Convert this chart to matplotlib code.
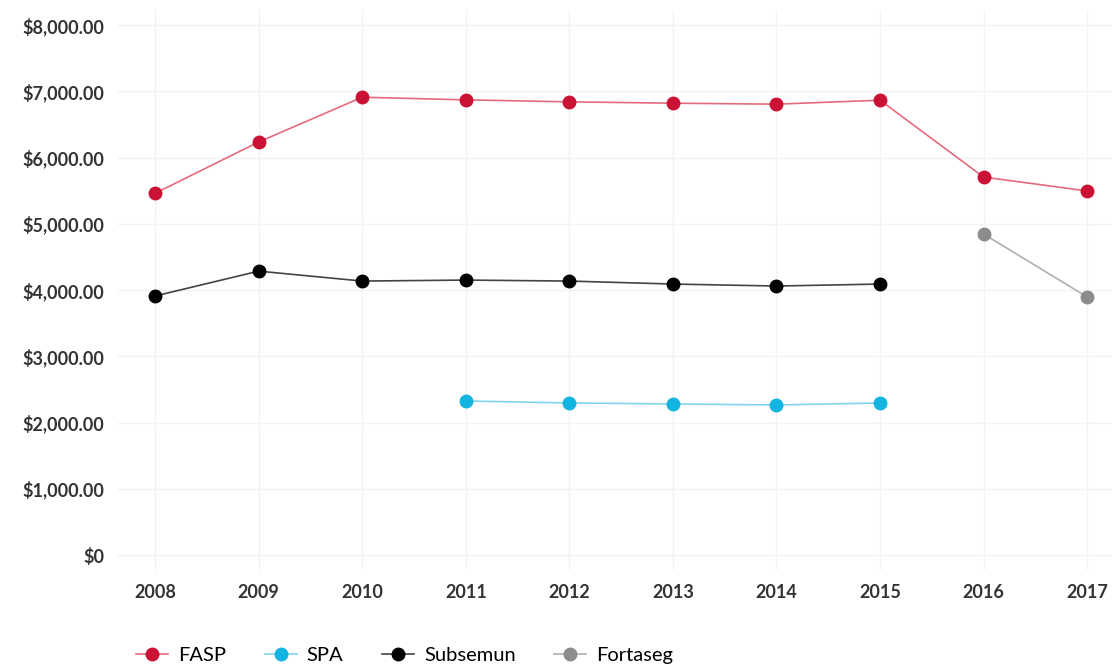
import matplotlib.pyplot as plt
from matplotlib.ticker import FuncFormatter

years = [2008, 2009, 2010, 2011, 2012, 2013, 2014, 2015, 2016, 2017]
fasp = [5460, 6235, 6910, 6870, 6840, 6820, 6805, 6865, 5705, 5495]
spa_years = [2011, 2012, 2013, 2014, 2015]
spa = [2325, 2295, 2280, 2265, 2295]
subsemun_years = [2008, 2009, 2010, 2011, 2012, 2013, 2014, 2015]
subsemun = [3910, 4285, 4135, 4150, 4135, 4090, 4060, 4090]
fortaseg_years = [2016, 2017]
fortaseg = [4845, 3895]

plt.rcParams['font.family'] = ['Lato', 'DejaVu Sans']

fig = plt.figure(figsize=(11.12, 6.69), dpi=100)
ax = fig.add_axes([0.106, 0.148, 0.894, 0.837])

ax.plot(years, fasp, color='#e36b7c', lw=1.2, marker='o', ms=9,
        mfc='#cc1234', mec='#cc1234', label='FASP')
ax.plot(spa_years, spa, color='#7fd4ec', lw=1.2, marker='o', ms=9,
        mfc='#14b4e0', mec='#14b4e0', label='SPA')
ax.plot(subsemun_years, subsemun, color='#444444', lw=1.2, marker='o', ms=9,
        mfc='#000000', mec='#000000', label='Subsemun')
ax.plot(fortaseg_years, fortaseg, color='#b0b0b0', lw=1.2, marker='o', ms=9,
        mfc='#8c8c8c', mec='#8c8c8c', label='Fortaseg')

ax.set_xlim(2007.64, 2017.24)
ax.set_ylim(-226, 8226)
ax.set_xticks(years)
ax.set_yticks(range(0, 8001, 1000))
ax.yaxis.set_major_formatter(FuncFormatter(lambda v, p: '$0' if v == 0 else '${:,.2f}'.format(v)))

for lab in ax.get_xticklabels() + ax.get_yticklabels():
    lab.set_fontweight('bold')
    lab.set_fontsize(13)
    lab.set_color('#333333')

ax.tick_params(length=0, pad=10)
ax.grid(True, color='#f3f3f3', lw=1)
for s in ax.spines.values():
    s.set_visible(False)

ax.legend(loc='upper left', bbox_to_anchor=(0.0, -0.105), ncol=4, frameon=False,
          fontsize=14.5, handlelength=1.6, columnspacing=1.9, handletextpad=0.5)

fig.savefig('out.png', dpi=100)
